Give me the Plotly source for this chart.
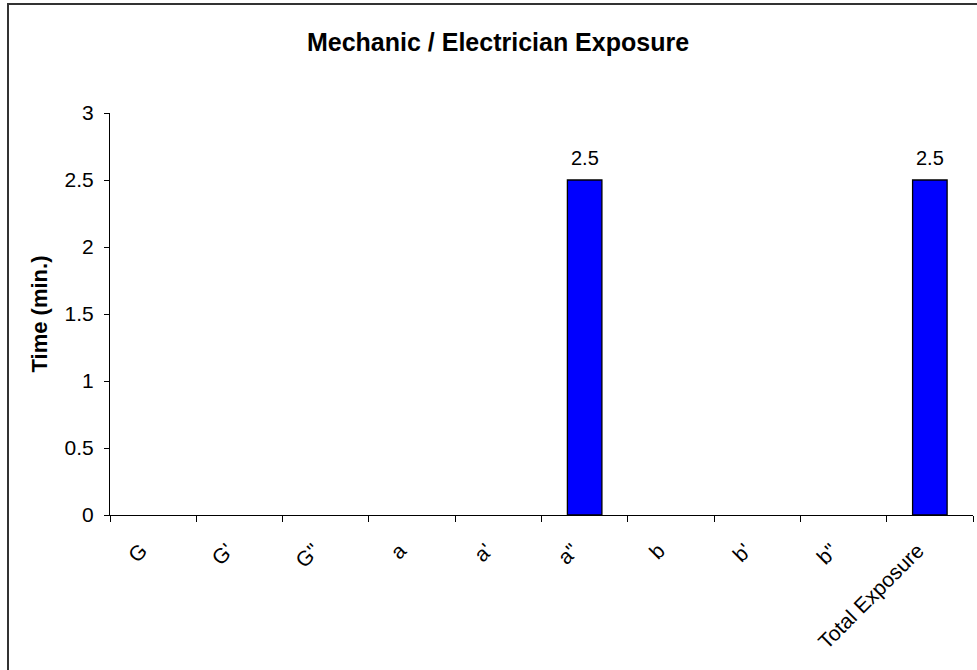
import plotly.graph_objects as go

# Categories and exposure times (min.)
categories = ['G', "G'", 'G"', 'a', "a'", 'a"', 'b', "b'", 'b"', 'Total Exposure']
times = [0, 0, 0, 0, 0, 2.5, 0, 0, 0, 2.5]
y_ticks = [0, 0.5, 1, 1.5, 2, 2.5, 3]

font = 'Liberation Sans, Arial, sans-serif'

fig = go.Figure(go.Bar(
    x=categories, y=times,
    marker=dict(color='#0000FF',
                line=dict(color='black', width=[1.3 if v else 0 for v in times])),
    cliponaxis=False))

# value labels above the non-zero bars
for cat, v in zip(categories, times):
    if v:
        fig.add_annotation(x=cat, y=v, text=f'{v:g}', showarrow=False,
                           yanchor='bottom', yshift=9,
                           font=dict(family=font, size=20, color='black'))

fig.update_layout(
    width=977, height=670,
    margin=dict(l=110, r=4, t=113, b=155),
    paper_bgcolor='white', plot_bgcolor='white',
    bargap=0.6, showlegend=False,
    font=dict(family=font, size=20, color='black'),
    title=dict(text='<b>Mechanic / Electrician Exposure</b>',
               x=498 / 977, xanchor='center', y=1 - 42 / 670, yanchor='middle',
               font=dict(size=25, family=font, color='black')),
    shapes=[dict(type='rect', xref='paper', yref='paper',
                 x0=(8 - 110) / 863, x1=1.2, y0=-0.6, y1=(515 - 4) / 402,
                 line=dict(color='#333333', width=2), layer='below')],
)

fig.update_xaxes(
    type='category', tickson='boundaries', ticks='outside', ticklen=6,
    tickcolor='black', showline=True, linecolor='black', linewidth=1,
    tickangle=-45, showgrid=False, tickfont=dict(size=21),
    ticklabelstandoff=14, ticklabelshift=-12)
fig.update_yaxes(
    range=[0, 3], tickvals=y_ticks, ticktext=[f'{v:g}' for v in y_ticks],
    ticks='outside', ticklen=5, tickcolor='black', showline=True,
    linecolor='black', linewidth=1, showgrid=False, zeroline=False,
    tickfont=dict(size=21), ticklabelstandoff=6,
    title=dict(text='<b>Time (min.)</b>', standoff=10, font=dict(size=22)))

fig.write_html('out.html', config={'displayModeBar': False},
               post_script="document.body.style.margin='0px';")
